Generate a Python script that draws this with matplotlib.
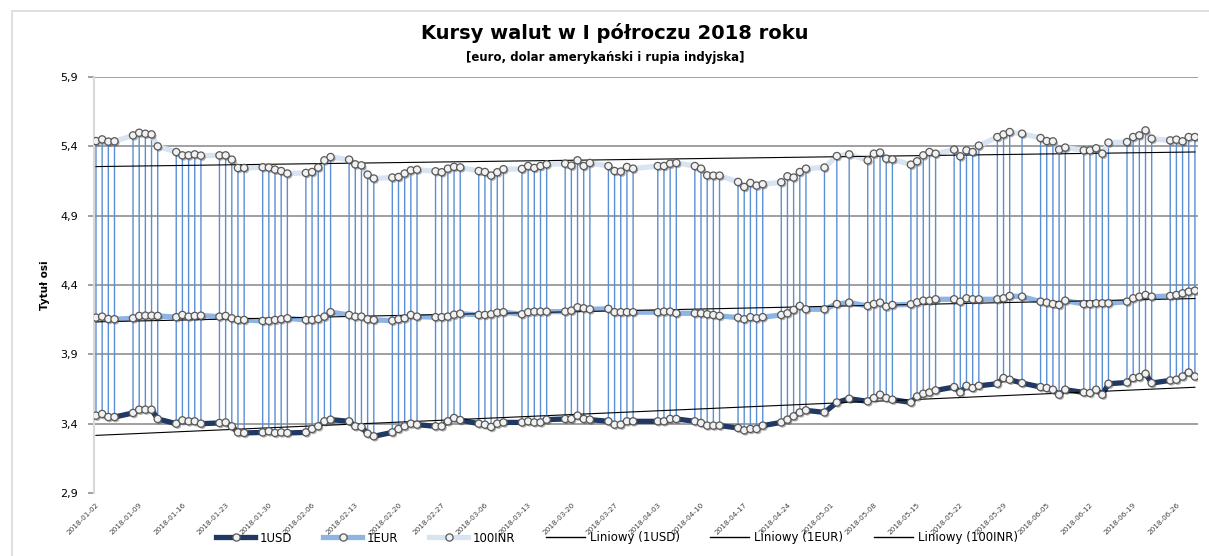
import numpy as np
import pandas as pd
import matplotlib
matplotlib.use("Agg")
import matplotlib.pyplot as plt
import matplotlib.patheffects as pe
from matplotlib.lines import Line2D
from matplotlib.patches import Rectangle

# ---- data ----
holidays = ["2018-04-02", "2018-05-01", "2018-05-03", "2018-05-31"]
dates = [d for d in pd.bdate_range("2018-01-02", "2018-06-29")
         if d.strftime("%Y-%m-%d") not in holidays]

usd = [
    3.458, 3.470, 3.448, 3.448, 3.477, 3.501, 3.501, 3.501, 3.434, 3.400, 3.424, 3.417, 3.417, 3.400,
    3.405, 3.409, 3.381, 3.337, 3.333, 3.337, 3.345, 3.333,
    3.337, 3.333, 3.337, 3.362, 3.381, 3.417, 3.429, 3.417, 3.381, 3.376, 3.328, 3.309,
    3.337, 3.362, 3.381, 3.400, 3.393, 3.381, 3.381, 3.417,
    3.441, 3.426, 3.400, 3.393, 3.376, 3.400, 3.409, 3.409, 3.417, 3.409, 3.409, 3.429,
    3.434, 3.434, 3.458, 3.434, 3.429, 3.417, 3.393, 3.393, 3.417, 3.417,
    3.417, 3.417, 3.434, 3.434, 3.417, 3.405, 3.386, 3.386, 3.386, 3.369, 3.352, 3.362, 3.362, 3.386,
    3.409, 3.429, 3.453, 3.481, 3.496, 3.481,
    3.553, 3.580, 3.561, 3.585, 3.609, 3.585, 3.573, 3.553, 3.596, 3.616, 3.625, 3.640,
    3.664, 3.625, 3.673, 3.657, 3.673, 3.688, 3.729, 3.717,
    3.693, 3.664, 3.657, 3.645, 3.609, 3.645, 3.625, 3.621, 3.645, 3.609, 3.688,
    3.697, 3.729, 3.736, 3.760, 3.693, 3.712, 3.717, 3.740, 3.769, 3.740,
]
eur = [
    4.165, 4.172, 4.155, 4.153, 4.160, 4.177, 4.179, 4.179, 4.177, 4.168, 4.184, 4.172, 4.177, 4.179,
    4.172, 4.177, 4.160, 4.148, 4.148, 4.141, 4.141, 4.148,
    4.153, 4.160, 4.148, 4.148, 4.155, 4.172, 4.204, 4.184, 4.172, 4.172, 4.153, 4.148,
    4.143, 4.153, 4.160, 4.184, 4.172, 4.168, 4.168, 4.172,
    4.186, 4.193, 4.184, 4.184, 4.189, 4.201, 4.204, 4.189, 4.204, 4.208, 4.208, 4.208,
    4.208, 4.215, 4.239, 4.232, 4.225, 4.228, 4.204, 4.204, 4.204, 4.204,
    4.204, 4.208, 4.208, 4.196, 4.196, 4.196, 4.189, 4.184, 4.177, 4.165, 4.153, 4.168, 4.160, 4.168,
    4.184, 4.196, 4.220, 4.249, 4.225, 4.225,
    4.263, 4.273, 4.249, 4.263, 4.273, 4.244, 4.256, 4.261, 4.275, 4.287, 4.287, 4.297,
    4.297, 4.280, 4.304, 4.297, 4.297, 4.297, 4.304, 4.321,
    4.316, 4.280, 4.273, 4.263, 4.256, 4.287, 4.263, 4.263, 4.268, 4.268, 4.268,
    4.280, 4.304, 4.316, 4.328, 4.316, 4.321, 4.328, 4.340, 4.352, 4.359,
]
inr = [
    5.438, 5.450, 5.434, 5.436, 5.479, 5.498, 5.491, 5.486, 5.400, 5.359, 5.335, 5.335, 5.342, 5.333,
    5.335, 5.335, 5.304, 5.244, 5.244, 5.249, 5.247, 5.232,
    5.222, 5.204, 5.208, 5.215, 5.247, 5.299, 5.323, 5.304, 5.270, 5.263, 5.196, 5.168,
    5.175, 5.179, 5.204, 5.227, 5.232, 5.220, 5.213, 5.239,
    5.252, 5.248, 5.222, 5.215, 5.189, 5.213, 5.235, 5.237, 5.258, 5.244, 5.258, 5.270,
    5.275, 5.261, 5.299, 5.258, 5.280, 5.258, 5.222, 5.218, 5.251, 5.239,
    5.258, 5.258, 5.275, 5.280, 5.258, 5.239, 5.191, 5.189, 5.189, 5.143, 5.107, 5.136, 5.117, 5.127,
    5.141, 5.184, 5.175, 5.215, 5.239, 5.247,
    5.330, 5.342, 5.299, 5.347, 5.355, 5.311, 5.306, 5.268, 5.292, 5.335, 5.359, 5.347,
    5.376, 5.328, 5.371, 5.359, 5.405, 5.467, 5.486, 5.503,
    5.491, 5.460, 5.438, 5.436, 5.376, 5.391, 5.371, 5.371, 5.386, 5.347, 5.427,
    5.431, 5.467, 5.479, 5.515, 5.455, 5.443, 5.448, 5.436, 5.467, 5.467,
]
tick_labels = ["2018-01-02", "2018-01-09", "2018-01-16", "2018-01-23", "2018-01-30",
               "2018-02-06", "2018-02-13", "2018-02-20", "2018-02-27", "2018-03-06",
               "2018-03-13", "2018-03-20", "2018-03-27", "2018-04-03", "2018-04-10",
               "2018-04-17", "2018-04-24", "2018-05-01", "2018-05-08", "2018-05-15",
               "2018-05-22", "2018-05-29", "2018-06-05", "2018-06-12", "2018-06-19",
               "2018-06-26"]
yticks = [2.9, 3.4, 3.9, 4.4, 4.9, 5.4, 5.9]
series_names = ["1USD", "1EUR", "100INR"]

# ---- plotting ----
t0 = pd.Timestamp("2018-01-02")
x = np.array([(d - t0).days for d in dates], dtype=float)
xt = np.array([(pd.Timestamp(s) - t0).days for s in tick_labels], dtype=float)

fig = plt.figure(figsize=(12.09, 5.56), dpi=100)
fig.patches.append(Rectangle((12 / 1209, -0.1), 1.2, 1 - 11 / 556 + 0.1,
                             transform=fig.transFigure, fill=False,
                             edgecolor="#d9d9d9", lw=1.2))

ax = fig.add_axes([94 / 1209, 1 - 493 / 556, (1198 - 94) / 1209, (493 - 77) / 556])
ax.set_xlim(-0.32, 178.5)
ax.set_ylim(2.9, 5.9)

for s in ["top", "right", "bottom"]:
    ax.spines[s].set_visible(False)
ax.spines["left"].set_color("#d9d9d9")
ax.spines["left"].set_linewidth(1.5)

for v in yticks[1:]:
    ax.axhline(v, color="#868686", lw=1.1, zorder=1)
ax.set_yticks(yticks)
ax.set_yticklabels([f"{v:.1f}".replace(".", ",") for v in yticks], fontsize=8)
ax.tick_params(axis="y", length=4.5, color="#868686", width=1.1, pad=7)

ax.set_xticks(xt)
ax.set_xticklabels(tick_labels, rotation=45, ha="right", va="top",
                   rotation_mode="anchor", fontsize=5.2, color="#404040")
ax.tick_params(axis="x", length=0, pad=6)

usd_a, eur_a, inr_a = np.array(usd), np.array(eur), np.array(inr)
hi = np.maximum(np.maximum(usd_a, eur_a), inr_a)
lo = np.minimum(np.minimum(usd_a, eur_a), inr_a)
ax.vlines(x, lo, hi, colors="#5b8fd3", lw=1.0, zorder=2, snap=False)

cols = ["#1f3864", "#8eb4e3", "#d9e4f2"]
shadow = [pe.SimplePatchShadow(offset=(1.0, -1.2), shadow_rgbFace="#404040", alpha=0.4), pe.Normal()]
for vals, c in zip([usd_a, eur_a, inr_a], cols):
    ax.plot(x, vals, color=c, lw=3.8, solid_capstyle="round", zorder=3)
for vals in [usd_a, eur_a, inr_a]:
    coef = np.polyfit(x, vals, 1)
    ax.plot([x[0], x[-1]], np.polyval(coef, [x[0], x[-1]]), color="black", lw=0.8, zorder=4)
for vals in [usd_a, eur_a, inr_a]:
    ax.plot(x, vals, ls="none", marker="o", ms=5.2, mfc="#f2f2f2", mec="#595959",
            mew=0.9, zorder=5, path_effects=shadow)

fig.text(615 / 1209, 1 - 33 / 556, "Kursy walut w I półroczu 2018 roku",
         ha="center", va="center", fontsize=14, fontweight="bold", color="#000000")
fig.text(605 / 1209, 1 - 57 / 556, "[euro, dolar amerykański i rupia indyjska]",
         ha="center", va="center", fontsize=8.5, fontweight="bold", color="#000000")
fig.text(45 / 1209, 1 - 285 / 556, "Tytuł osi", rotation=90, ha="center", va="center",
         fontsize=7.5, fontweight="bold")

handles = [Line2D([], [], color=c, lw=3.8, marker="o", ms=5.2, mfc="#f2f2f2",
                  mec="#595959", mew=0.9) for c in cols]
handles += [Line2D([], [], color="black", lw=1) for _ in range(3)]
labels = series_names + [f"Liniowy ({n})" for n in series_names]
fig.legend(handles, labels, loc="center", bbox_to_anchor=(617 / 1209, 1 - 538 / 556),
           ncol=6, frameon=False, fontsize=8.5, handlelength=3.3, columnspacing=2.6,
           handletextpad=0.4, numpoints=1)

fig.savefig("out.png", dpi=100)
